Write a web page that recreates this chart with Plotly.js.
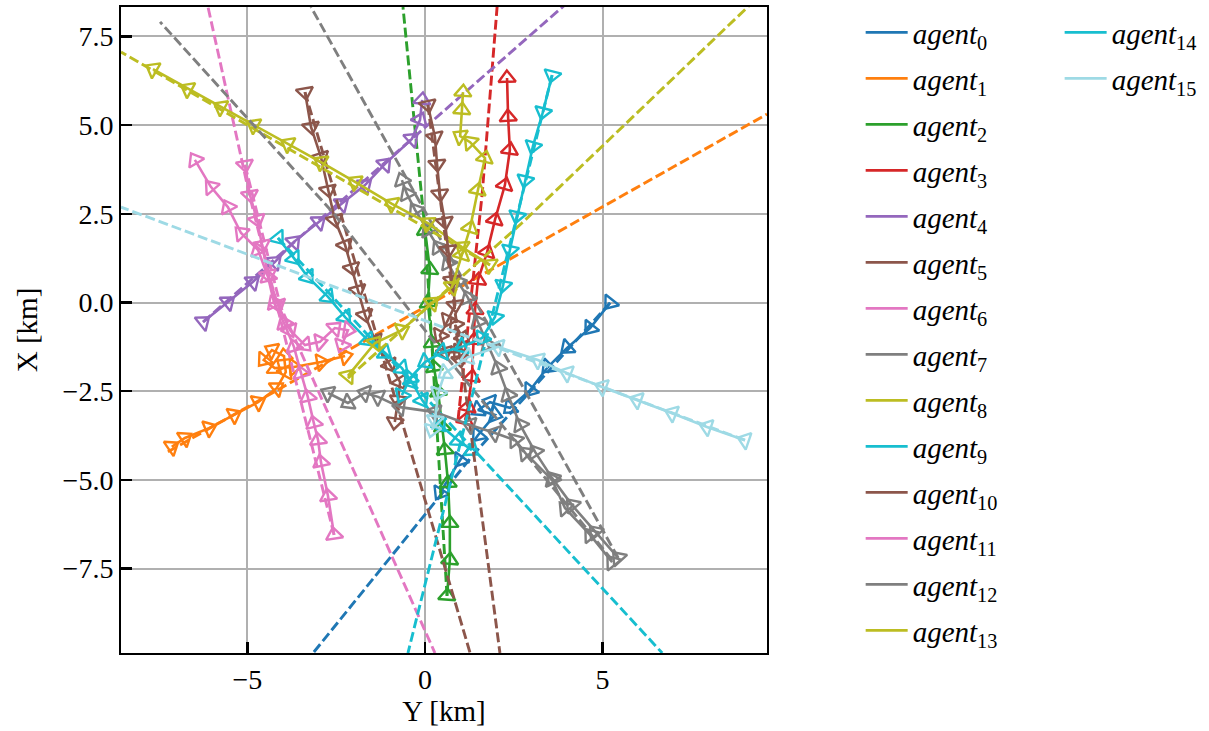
<!DOCTYPE html>
<html>
<head>
<meta charset="utf-8">
<script src="https://cdn.plot.ly/plotly-3.0.1.min.js"></script>
<style>
  html, body { margin: 0; padding: 0; background: #ffffff; }
  #chart { width: 1209px; height: 731px; }
</style>
</head>
<body>
<div id="chart"></div>
<script>
// Agent tracks in km. Each point is [Y, X]: Y runs along the horizontal axis, X along the vertical one.
// Solid tracks go from the start position onward; heading lines are the dashed reference lines.

const track0 = [[5.21,-0.01],[4.65,-0.72],[4.00,-1.28],[3.46,-1.82],[2.96,-2.47],[2.39,-2.97],[1.83,-2.81],[1.49,-3.03],[1.97,-3.17],[1.49,-3.74],[0.99,-4.44],[0.42,-5.37]];
const heading0 = [[5.21,-0.01],[1.40,-4.24],[-3.15,-9.88]];

const track1 = [[-7.13,-4.07],[-6.76,-3.82],[-6.08,-3.54],[-5.38,-3.17],[-4.70,-2.81],[-4.17,-2.41],[-3.92,-1.96],[-3.97,-1.51],[-4.31,-1.34],[-4.54,-1.62],[-4.23,-1.85],[-3.69,-1.82],[-2.93,-1.68],[-2.25,-1.51]];
const heading1 = [[-7.24,-4.21],[9.63,5.31]];

const track2 = [[0.62,-8.27],[0.70,-7.26],[0.70,-6.22],[0.65,-5.09],[0.56,-4.16],[0.48,-3.51],[0.37,-2.52],[0.25,-1.82],[0.20,-1.14],[0.08,-0.01],[0.14,0.92],[0.00,2.04]];
const heading2 = [[0.62,-8.27],[0.00,2.04],[-0.62,8.33]];

const track3 = [[1.13,-3.31],[1.21,-2.95],[1.32,-2.10],[1.38,-1.06],[1.41,-0.21],[1.49,0.63],[1.75,1.42],[1.97,2.33],[2.25,3.31],[2.39,4.30],[2.34,5.23],[2.31,6.33]];
const heading3 = [[0.93,-3.31],[1.61,3.06],[2.03,8.33]];

const track4 = [[-6.25,-0.55],[-5.55,0.01],[-4.85,0.58],[-4.23,1.14],[-3.69,1.71],[-2.99,2.27],[-2.34,2.78],[-1.69,3.31],[-1.13,3.90],[-0.37,4.61],[-0.14,5.15],[-0.08,5.71]];
const heading4 = [[-6.25,-0.55],[3.94,8.39]];

const track5 = [[-3.38,5.93],[-3.21,4.95],[-2.93,4.10],[-2.73,3.17],[-2.54,2.33],[-2.25,1.62],[-2.06,0.97],[-1.89,0.35],[-1.69,-0.35],[-1.41,-1.06],[-0.99,-1.76],[-0.70,-2.24],[-0.76,-2.75],[-0.85,-3.37]];
const heading5 = [[-3.38,5.93],[1.27,-9.88]];

const track6 = [[-2.56,-6.55],[-2.73,-5.46],[-2.93,-4.50],[-3.01,-3.88],[-3.13,-3.40],[-3.30,-2.66],[-3.49,-1.99],[-3.69,-1.25],[-3.97,-0.58],[-4.25,-0.01],[-4.42,0.72],[-4.70,1.48],[-5.18,1.96],[-5.55,2.69],[-6.03,3.26],[-6.48,4.02]];
const heading6 = [[-2.56,-6.55],[-4.95,3.06],[-6.11,8.33]];

const track7 = [[5.44,-7.20],[4.79,-6.47],[4.14,-5.71],[3.58,-4.95],[3.10,-4.21],[2.68,-3.45],[2.34,-2.61],[2.06,-1.85],[1.77,-1.20],[1.49,-0.55],[1.21,0.13],[0.93,0.58],[0.65,1.11],[0.37,1.56],[0.08,2.04],[-0.28,2.61],[-0.51,3.06],[-0.65,3.45]];
const heading7 = [[5.44,-7.20],[-3.21,8.33]];

const track8 = [[1.83,1.06],[1.04,1.56],[0.08,2.24],[-0.93,2.78],[-1.97,3.40],[-2.93,3.96],[-3.86,4.47],[-4.82,5.00],[-5.75,5.51],[-6.68,6.02],[-7.66,6.58]];
const heading8 = [[1.83,1.06],[-8.56,7.06]];

const track9 = [[-4.14,1.82],[-3.69,1.25],[-3.30,0.72],[-2.73,0.16],[-2.25,-0.41],[-1.61,-1.06],[-1.13,-1.42],[-0.65,-1.85],[-0.37,-2.24],[-0.08,-2.75],[0.42,-3.45],[0.93,-3.88],[1.32,-4.16]];
const heading9 = [[-4.14,1.82],[6.68,-9.88]];

const track10 = [[0.08,5.57],[0.28,4.67],[0.34,3.90],[0.42,3.06],[0.56,2.27],[0.65,1.48],[0.76,0.63],[0.85,-0.07],[0.65,-0.49],[0.42,-0.92],[0.56,-1.40],[0.93,-1.40],[1.07,-1.00],[0.85,-0.63],[0.99,-1.62]];
const heading10 = [[0.08,5.57],[2.11,-9.88]];

const track11 = [[-5.07,3.88],[-4.93,3.03],[-4.73,2.33],[-4.59,1.62],[-4.42,0.78],[-4.14,-0.07],[-3.80,-0.78],[-3.38,-1.20],[-2.96,-1.11],[-2.54,-0.72],[-2.17,-0.78],[-2.34,-1.20]];
const heading11 = [[-5.07,3.88],[-4.06,-0.13],[-2.39,-3.88],[0.28,-9.88]];

const track12 = [[5.27,-7.32],[4.65,-6.55],[3.94,-5.79],[3.58,-5.00],[2.82,-4.24],[2.54,-3.88],[1.97,-3.68],[1.27,-3.45],[0.28,-3.09],[-0.70,-2.95],[-1.32,-2.66],[-1.69,-2.55],[-2.17,-2.83],[-2.73,-2.55]];
const heading12 = [[5.27,-7.26],[0.28,-1.14],[-2.56,2.50],[-7.46,7.91]];

const track13 = [[-2.17,-2.07],[-1.41,-1.14],[-0.65,-0.78],[0.20,-0.01],[0.76,0.44],[1.04,1.34],[1.27,2.10],[1.49,3.17],[1.69,4.07],[1.27,4.52],[0.99,4.69],[1.04,5.43],[1.07,5.93]];
const heading13 = [[-2.17,-2.13],[2.73,2.24],[9.15,8.39]];

const track14 = [[3.58,6.41],[3.32,5.37],[3.04,4.41],[2.82,3.45],[2.59,2.44],[2.39,1.48],[2.20,0.49],[1.97,-0.41],[1.61,-1.00],[1.04,-1.25],[0.48,-1.40],[0.00,-1.68],[-0.42,-2.13],[-0.65,-2.61]];
const heading14 = [[3.58,6.41],[-0.48,-9.88]];

const track15 = [[9.01,-3.88],[7.94,-3.51],[6.96,-3.12],[5.97,-2.75],[4.99,-2.38],[4.00,-1.99],[3.18,-1.62],[2.06,-1.25],[1.21,-1.54],[0.56,-1.99],[0.37,-2.55],[0.28,-3.31],[0.20,-3.59]];
const heading15 = [[9.01,-3.88],[-8.56,2.69]];

const tracks = [track0,track1,track2,track3,track4,track5,track6,track7,track8,track9,track10,track11,track12,track13,track14,track15];
const headings = [heading0,heading1,heading2,heading3,heading4,heading5,heading6,heading7,heading8,heading9,heading10,heading11,heading12,heading13,heading14,heading15];

const agentColors = ['#1f77b4','#ff7f0e','#2ca02c','#d62728','#9467bd','#8c564b','#e377c2','#7f7f7f',
                     '#bcbd22','#17becf','#8c564b','#e377c2','#7f7f7f','#bcbd22','#17becf','#9edae5'];

const xTicks = [-5, 0, 5];
const yTicks = [-7.5, -5, -2.5, 0, 2.5, 5, 7.5];

const SERIF = 'Liberation Serif, Times New Roman, serif';

// Heading of travel at each point (degrees clockwise from up): from the previous point,
// or toward the next one for the first point. Both axes share the same km-per-pixel scale.
function travelAngles(tr) {
  return tr.map((p, k) => {
    const a = k > 0 ? tr[k - 1] : p;
    const b = k > 0 ? p : tr[1];
    return Math.atan2(b[0] - a[0], b[1] - a[1]) * 180 / Math.PI;
  });
}

const traces = [];
tracks.forEach((tr, i) => {
  const col = agentColors[i];
  const xs = tr.map(p => p[0]);
  const ys = tr.map(p => p[1]);
  // path line (this one carries the legend entry)
  traces.push({
    type: 'scatter', mode: 'lines', x: xs, y: ys,
    name: '<i>agent</i><sub>' + i + '</sub>',
    legend: i < 14 ? 'legend' : 'legend2',
    legendgroup: 'agent' + i,
    line: { color: col, width: 2.6 },
    hoverinfo: 'skip'
  });
  // open triangles pointing along the direction of travel
  traces.push({
    type: 'scatter', mode: 'markers', x: xs, y: ys,
    showlegend: false, legendgroup: 'agent' + i,
    marker: { symbol: 'triangle-up-open', size: 15, color: col, angle: travelAngles(tr),
              line: { color: col, width: 2.4 } },
    hoverinfo: 'skip'
  });
  // initial heading line
  const hd = headings[i];
  traces.push({
    type: 'scatter', mode: 'lines', x: hd.map(p => p[0]), y: hd.map(p => p[1]),
    showlegend: false, legendgroup: 'agent' + i,
    line: { color: col, width: 2.9, dash: '10px,4px' },
    hoverinfo: 'skip'
  });
});

const axisCommon = {
  showgrid: true, gridcolor: '#b0b0b0', gridwidth: 2,
  zeroline: false,
  showline: true, linecolor: '#000000', linewidth: 2, mirror: true,
  ticks: 'inside', ticklen: 11, tickwidth: 2.5, tickcolor: '#000000',
  tickfont: { family: SERIF, size: 28, color: '#000000' },
  automargin: false
};

const legendCommon = {
  yref: 'paper', y: 1.0, yanchor: 'top', xanchor: 'left',
  bgcolor: 'rgba(0,0,0,0)', borderwidth: 0,
  font: { family: SERIF, size: 29, color: '#000000' },
  traceorder: 'grouped', tracegroupgap: 5.3, itemwidth: 42, maxheight: 720
};

const layout = {
  width: 1209, height: 731,
  margin: { l: 121, r: 442, t: 7, b: 78 },
  paper_bgcolor: '#ffffff', plot_bgcolor: '#ffffff',
  showlegend: true,
  font: { family: SERIF, color: '#000000' },
  xaxis: Object.assign({}, axisCommon, {
    range: [-8.56, 9.63], tickvals: xTicks, tickformat: 'd',
    title: { text: 'Y [km]', font: { family: SERIF, size: 29, color: '#000000' }, standoff: 7 }
  }),
  yaxis: Object.assign({}, axisCommon, {
    range: [-9.88, 8.33], tickvals: yTicks, tickformat: '.1f',
    title: { text: 'X [km]', font: { family: SERIF, size: 29, color: '#000000' }, standoff: 16 }
  }),
  legend: Object.assign({}, legendCommon, { x: 1.145 }),
  legend2: Object.assign({}, legendCommon, { x: 1.453 })
};

Plotly.newPlot('chart', traces, layout, { staticPlot: true, displayModeBar: false });
</script>
</body>
</html>
